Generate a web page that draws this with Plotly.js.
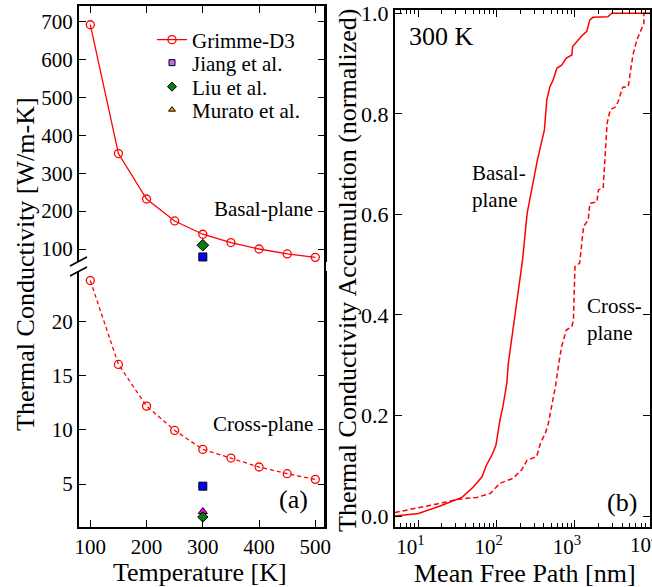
<!DOCTYPE html>
<html>
<head>
<meta charset="utf-8">
<script src="https://cdn.plot.ly/plotly-3.0.1.min.js"></script>
<style>html,body{margin:0;padding:0;background:#fff;}#chart{width:652px;height:587px;}</style>
</head>
<body>
<div id="chart"></div>
<script>
// ---- data: panel (a) ----
const temperature = [100, 150, 200, 250, 300, 350, 400, 450, 500];
const basalK = [692, 352, 232, 174, 139, 117, 100, 87, 78];
const crossK = [23.8, 16.05, 12.2, 9.95, 8.2, 7.4, 6.57, 5.95, 5.43];
const expT = [300];
const jiangBasal = [79];
const liuBasal = [110];
const jiangCross = [4.8];
const muratoCross = [2.45];
const liuCross = [1.95];
const basalTicks = [100, 200, 300, 400, 500, 600, 700];
const crossTicks = [5, 10, 15, 20];
const tempTicks = [100, 200, 300, 400, 500];

// ---- data: panel (b) ----
const mfpBasal = [5.0, 10, 19, 27, 36, 50, 65, 74, 87, 98, 110, 120, 135, 141, 170, 190, 214, 245, 288, 331, 407, 417, 437, 479, 525, 589, 676, 776, 912, 933, 1047, 1202, 1413, 1549, 1698, 2630, 2951, 9120];
const accBasal = [0.000, 0.005, 0.020, 0.030, 0.037, 0.057, 0.078, 0.101, 0.121, 0.141, 0.190, 0.217, 0.265, 0.304, 0.396, 0.456, 0.509, 0.602, 0.655, 0.708, 0.768, 0.788, 0.828, 0.854, 0.867, 0.891, 0.897, 0.911, 0.917, 0.934, 0.944, 0.954, 0.964, 0.987, 0.992, 0.993, 1.000, 1.000];
const mfpCross = [5.0, 11.7, 17.4, 31.6, 56, 83, 110, 162, 209, 245, 324, 363, 417, 457, 501, 562, 631, 676, 776, 912, 955, 1000, 1148, 1202, 1288, 1479, 1549, 1905, 1995, 2291, 2399, 2570, 2818, 3311, 3548, 4074, 4786, 5012, 5495, 6166, 6918, 7586, 7600, 9120];
const accCross = [0.007, 0.018, 0.024, 0.033, 0.037, 0.045, 0.065, 0.075, 0.092, 0.111, 0.118, 0.145, 0.164, 0.184, 0.217, 0.257, 0.310, 0.337, 0.370, 0.377, 0.390, 0.496, 0.503, 0.529, 0.576, 0.589, 0.622, 0.625, 0.649, 0.652, 0.708, 0.781, 0.808, 0.814, 0.824, 0.853, 0.854, 0.874, 0.917, 0.947, 0.964, 0.980, 1.000, 1.000];
const logTickVals = [10, 100, 1000];
const logTickText = ['10<sup>1</sup>', '10<sup>2</sup>', '10<sup>3</sup>'];
const cutTickText = '10<sup>4</sup>';
const accTicks = [0, 0.2, 0.4, 0.6, 0.8, 1.0];

const W = 652, H = 587;
const px = x => x / W;
const py = y => 1 - y / H;
const FONT = '"Liberation Serif", "Times New Roman", serif';
const RED = '#ff0000';

const traces = [
  {x: temperature, y: basalK, xaxis: 'x2', yaxis: 'y2', name: 'Grimme-D3', mode: 'lines+markers', legend: 'legend',
   line: {color: RED, width: 1.3}, marker: {symbol: 'circle-open', size: 8, color: RED, line: {width: 1.3, color: RED}}},
  {x: [null], y: [null], xaxis: 'x2', yaxis: 'y2', name: 'Jiang et al.', mode: 'markers', legend: 'legend2',
   marker: {symbol: 'square', size: 6, color: '#cc66ff', line: {width: 1, color: '#000'}}},
  {x: [null], y: [null], xaxis: 'x2', yaxis: 'y2', name: 'Liu et al.', mode: 'markers', legend: 'legend3',
   marker: {symbol: 'diamond', size: 7, color: '#0a7a0a', line: {width: 1, color: '#000'}}},
  {x: [null], y: [null], xaxis: 'x2', yaxis: 'y2', name: 'Murato et al.', mode: 'markers', legend: 'legend4',
   marker: {symbol: 'triangle-up', size: 6, color: '#ff9900', line: {width: 1, color: '#000'}}},
  {x: temperature, y: crossK, xaxis: 'x', yaxis: 'y', showlegend: false, mode: 'lines+markers',
   line: {color: RED, width: 1.3, dash: '4px,3px'}, marker: {symbol: 'circle-open', size: 8, color: RED, line: {width: 1.3, color: RED}}},
  {x: expT, y: jiangBasal, xaxis: 'x2', yaxis: 'y2', showlegend: false, mode: 'markers',
   marker: {symbol: 'square', size: 8, color: '#0000ff', line: {width: 1, color: '#000'}}},
  {x: expT, y: liuBasal, xaxis: 'x2', yaxis: 'y2', showlegend: false, mode: 'markers',
   marker: {symbol: 'diamond', size: 9, color: '#0a7a0a', line: {width: 1, color: '#000'}}},
  {x: expT, y: jiangCross, xaxis: 'x', yaxis: 'y', showlegend: false, mode: 'markers',
   marker: {symbol: 'square', size: 8, color: '#0000ff', line: {width: 1, color: '#000'}}},
  {x: expT, y: muratoCross, xaxis: 'x', yaxis: 'y', showlegend: false, mode: 'markers',
   marker: {symbol: 'triangle-up', size: 8, color: '#ff00ff', line: {width: 1, color: '#000'}}},
  {x: expT, y: liuCross, xaxis: 'x', yaxis: 'y', showlegend: false, mode: 'markers',
   marker: {symbol: 'diamond', size: 8, color: '#0a7a0a', line: {width: 1, color: '#000'}}},
  {x: mfpBasal, y: accBasal, xaxis: 'x3', yaxis: 'y3', showlegend: false, mode: 'lines',
   line: {color: RED, width: 1.5}},
  {x: mfpCross, y: accCross, xaxis: 'x3', yaxis: 'y3', showlegend: false, mode: 'lines',
   line: {color: RED, width: 1.5, dash: '5px,3px'}}
];

const axBase = {showline: true, linecolor: '#000', linewidth: 2, ticks: 'inside', ticklen: 7, tickwidth: 1,
  tickcolor: '#000', showgrid: false, zeroline: false, tickfont: {family: FONT, size: 21, color: '#000'}};

const legendAt = y => ({x: px(152), y: py(y), xanchor: 'left', yanchor: 'middle', bgcolor: 'rgba(0,0,0,0)',
  font: {family: FONT, size: 21, color: '#000'}, itemwidth: 30, tracegroupgap: 0});

const layout = {
  width: W, height: H, margin: {l: 0, r: 0, t: 0, b: 0}, paper_bgcolor: '#fff', plot_bgcolor: '#fff',
  font: {family: FONT, color: '#000'},
  showlegend: true,
  legend: legendAt(40),
  legend2: legendAt(63),
  legend3: legendAt(87),
  legend4: legendAt(110),
  xaxis: Object.assign({}, axBase, {domain: [px(79), px(325)], range: [79.9, 517.2], anchor: 'y',
    tickvals: tempTicks, side: 'bottom'}),
  xaxis2: Object.assign({}, axBase, {domain: [px(79), px(325)], range: [79.9, 517.2], anchor: 'y2',
    tickvals: tempTicks, side: 'top', showticklabels: false, matches: 'x'}),
  yaxis: Object.assign({}, axBase, {domain: [py(527), py(271)], range: [20 - (527 - 321.7) / 10.82, 20 + (321.7 - 271) / 10.82],
    anchor: 'x', tickvals: crossTicks, mirror: 'ticks'}),
  yaxis2: Object.assign({}, axBase, {domain: [py(262), py(6)], range: [100 - (262 - 249) / 0.3789, 700 + (21.7 - 6) / 0.3789],
    anchor: 'x2', tickvals: basalTicks, mirror: 'ticks'}),
  xaxis3: Object.assign({}, axBase, {domain: [px(395), px(650)], type: 'log', range: [0.702, 3.958], anchor: 'y3',
    tickvals: logTickVals, ticktext: logTickText, mirror: 'ticks', ticklabelshift: -8,
    minor: {ticks: 'inside', ticklen: 4, tickwidth: 1, tickcolor: '#000', dtick: 'D1', showgrid: false}}),
  yaxis3: Object.assign({}, axBase, {domain: [py(527), py(10)], range: [-11 / 502.7, 1 + 3.3 / 502.7], anchor: 'x3',
    tickvals: accTicks, tickformat: '.1f', mirror: 'ticks', tickfont: {family: FONT, size: 22, color: '#000'}}),
  shapes: [
    {type: 'line', xref: 'paper', yref: 'paper', x0: px(325), x1: px(325), y0: py(527), y1: py(6), line: {color: '#000', width: 2}},
    {type: 'line', xref: 'paper', yref: 'paper', x0: px(70), x1: px(87), y0: py(266), y1: py(257), line: {color: '#000', width: 1.6}},
    {type: 'line', xref: 'paper', yref: 'paper', x0: px(70), x1: px(87), y0: py(276), y1: py(267), line: {color: '#000', width: 1.6}}
  ],
  annotations: [
    {text: 'Thermal Conductivity [W/m-K]', x: px(25), y: py(264), textangle: -90, font: {size: 26}},
    {text: 'Temperature [K]', x: px(200), y: py(572), font: {size: 26}},
    {text: 'Thermal Conductivity Accumulation (normalized)', x: px(347), y: py(271), textangle: -90, font: {size: 26}},
    {text: 'Mean Free Path [nm]', x: px(525), y: py(573), font: {size: 26}},
    {text: 'Basal-plane', x: px(263), y: py(209), font: {size: 21}},
    {text: 'Cross-plane', x: px(263), y: py(424), font: {size: 21}},
    {text: '(a)', x: px(293), y: py(499), font: {size: 26}},
    {text: '300 K', x: px(441), y: py(36), font: {size: 26}},
    {text: 'Basal-<br>plane', x: px(470), y: py(186), xanchor: 'left', align: 'left', font: {size: 21}},
    {text: 'Cross-<br>plane', x: px(585), y: py(319), xanchor: 'left', align: 'left', font: {size: 21}},
    {text: '(b)', x: px(622), y: py(502), font: {size: 26}},
    {text: cutTickText, x: px(628), y: py(543), xanchor: 'left', font: {size: 21}}
  ].map(a => Object.assign({xref: 'paper', yref: 'paper', showarrow: false, xanchor: 'center', yanchor: 'middle'}, a,
    {font: Object.assign({family: FONT, color: '#000'}, a.font)}))
};

Plotly.newPlot('chart', traces, layout, {displayModeBar: false, staticPlot: true});
</script>
</body>
</html>
